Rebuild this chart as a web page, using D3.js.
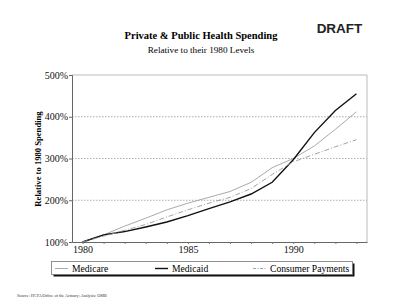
<!DOCTYPE html>
<html><head><meta charset="utf-8">
<script src="https://cdn.jsdelivr.net/npm/d3@7"></script>
<style>body{margin:0;background:#fff}svg{display:block}</style>
</head><body>
<script>
const years = [1980,1981,1982,1983,1984,1985,1986,1987,1988,1989,1990,1991,1992,1993];
const medicare = [100,117,138,157,177,193,207,221,243,278,300,330,370,412];
const medicaid = [100,117,125,136,148,163,180,196,215,243,297,362,415,455];
const consumer = [100,114,128,142,160,177,193,207,228,262,292,310,328,345];
const yTicks = [100,200,300,400,500];
const xLabels = [1980,1985,1990];
const seriesNames = ["Medicare","Medicaid","Consumer Payments"];

const W=400,H=307;
const svg=d3.select("body").append("svg").attr("width",W).attr("height",H);
const x=d3.scaleLinear().domain([1979.5,1993.5]).range([72,367]);
const y=d3.scaleLinear().domain([100,500]).range([242,75]);
const serif="'Liberation Serif','Times New Roman',serif";

// titles
svg.append("text").attr("x",201).attr("y",38.5).attr("text-anchor","middle")
  .attr("font-family",serif).attr("font-weight","bold").attr("font-size",10.5)
  .text("Private & Public Health Spending");
svg.append("text").attr("x",201).attr("y",53).attr("text-anchor","middle")
  .attr("font-family",serif).attr("font-size",9.2)
  .text("Relative to their 1980 Levels");
svg.append("text").attr("x",339.5).attr("y",33).attr("text-anchor","middle")
  .attr("font-family","'Liberation Sans',Arial,sans-serif").attr("font-weight","bold").attr("font-size",13.5)
  .attr("fill","#222").text("DRAFT");

// grid
svg.append("g").selectAll("line").data(yTicks.filter(d=>d>100&&d<500)).join("line")
  .attr("x1",72).attr("x2",367).attr("y1",d=>y(d)).attr("y2",d=>y(d))
  .attr("stroke","#999").attr("stroke-width",0.8).attr("stroke-dasharray","1.5,1.5");

// frame
svg.append("path").attr("d",`M72,75H367V242`).attr("fill","none").attr("stroke","#bbb").attr("stroke-width",1);

// axes
const ya=d3.axisLeft(y).tickValues(yTicks).tickSize(3).tickFormat(d=>d+"%");
const gy=svg.append("g").attr("transform","translate(72,0)").call(ya);
gy.select(".domain").attr("stroke","#666");
gy.selectAll(".tick line").attr("stroke","#666");
gy.selectAll("text").attr("font-family",serif).attr("font-size",10).attr("fill","#111").attr("x",-4);

const xa=d3.axisBottom(x).tickValues(years).tickSize(2).tickSizeOuter(0)
  .tickFormat(d=>xLabels.includes(d)?d:"");
const gx=svg.append("g").attr("transform","translate(0,242)").call(xa);
gx.select(".domain").attr("stroke","#666");
gx.selectAll(".tick line").attr("stroke","#777");
gx.selectAll("text").attr("font-family",serif).attr("font-size",10).attr("fill","#111").attr("dy","0.55em");

svg.append("text").attr("transform","translate(41,159) rotate(-90)").attr("text-anchor","middle")
  .attr("font-family",serif).attr("font-weight","bold").attr("font-size",8.6)
  .text("Relative to 1980 Spending");

// lines
const line=d3.line().x((d,i)=>x(years[i])).y(d=>y(d));
const styles=[
  {data:medicare,stroke:"#aaa",w:1,dash:null},
  {data:medicaid,stroke:"#111",w:1.4,dash:null},
  {data:consumer,stroke:"#999",w:0.9,dash:"5,2,1,2"}
];
styles.forEach(s=>{
  svg.append("path").datum(s.data).attr("d",line).attr("fill","none")
    .attr("stroke",s.stroke).attr("stroke-width",s.w).attr("stroke-dasharray",s.dash);
});

// legend
const lg=svg.append("g");
lg.append("rect").attr("x",53.5).attr("y",263.5).attr("width",301).attr("height",13).attr("fill","#111");
lg.append("rect").attr("x",51.5).attr("y",261.5).attr("width",301).attr("height",13).attr("fill","#fff").attr("stroke","#777").attr("stroke-width",0.8);
const lx=[55,155,253];
seriesNames.forEach((n,i)=>{
  const s=styles[i];
  lg.append("line").attr("x1",lx[i]).attr("x2",lx[i]+13).attr("y1",268.5).attr("y2",268.5)
    .attr("stroke",s.stroke).attr("stroke-width",s.w).attr("stroke-dasharray",s.dash?"3,1.5,1,1.5":null);
  lg.append("text").attr("x",lx[i]+17).attr("y",272).attr("font-family",serif).attr("font-size",9.6).text(n);
});

svg.append("text").attr("x",17).attr("y",297).attr("font-family",serif).attr("font-size",4.2).attr("fill","#333")
  .text("Source:  HCFA/Office of the Actuary; Analysis:  OMB");
</script>
</body></html>
